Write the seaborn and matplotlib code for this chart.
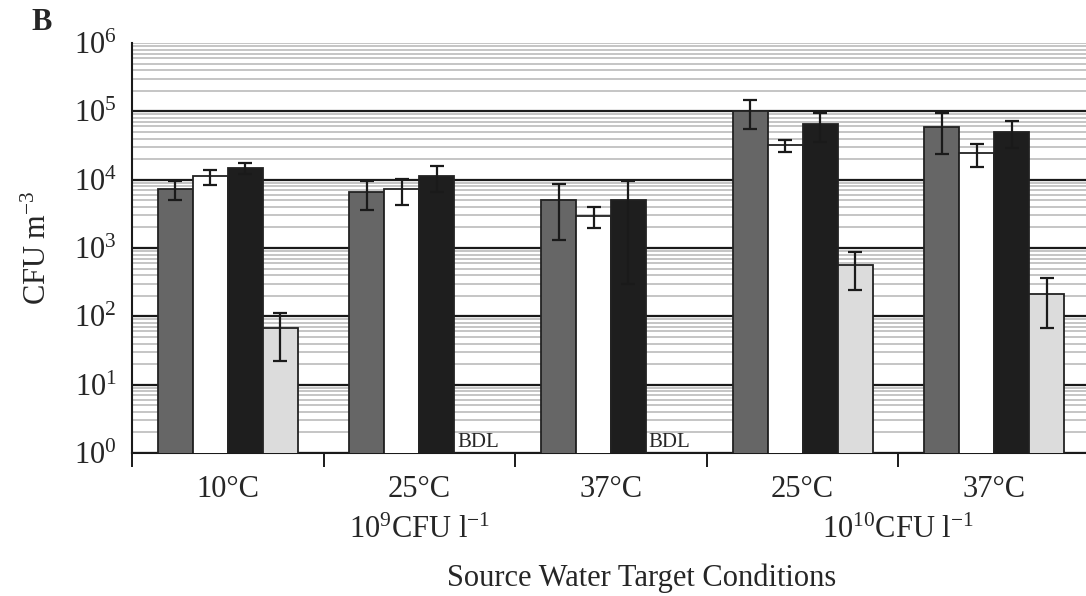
import numpy as np
import pandas as pd
import matplotlib
matplotlib.use("Agg")
import matplotlib.pyplot as plt
import seaborn as sns
from matplotlib.ticker import LogLocator, NullFormatter, FixedLocator

# ---------------- data ----------------
conditions = ["10C_1e9", "25C_1e9", "37C_1e9", "25C_1e10", "37C_1e10"]
tick_labels = ["10°C", "25°C", "37°C", "25°C", "37°C"]
series = ["Series A", "Series B", "Series C", "Series D"]

vals_a = [7300, 6600, 5000, 100000, 59000]
errs_a = [2200, 3000, 3700, 45000, 35000]
vals_b = [11200, 7300, 2950, 32000, 24500]
errs_b = [2800, 3000, 1000, 6500, 9000]
vals_c = [14800, 11200, 5000, 65000, 50000]
errs_c = [2500, 4500, 4700, 30000, 21000]
vals_d = [67, 0, 0, 560, 213]          # 0 = BDL (below detection limit)
errs_d = [45, 0, 0, 320, 145]

group_labels = [r"$10^{9}$CFU l$^{-1}$", r"$10^{10}$CFU l$^{-1}$"]
group_label_pos = [1.0, 3.5]

colors = ["#666666", "#ffffff", "#1e1e1e", "#dcdcdc"]

all_vals = [vals_a, vals_b, vals_c, vals_d]
all_errs = [errs_a, errs_b, errs_c, errs_d]

df = pd.DataFrame({
    "condition": np.repeat([conditions], 4, axis=0).ravel(),
    "series": np.repeat(series, len(conditions)),
    "value": np.concatenate(all_vals).astype(float),
})

# ---------------- style ----------------
sns.set_style("white")
plt.rcParams["font.family"] = ["Liberation Serif", "DejaVu Serif"]
plt.rcParams["mathtext.fontset"] = "custom"
plt.rcParams["mathtext.rm"] = "Liberation Serif"
plt.rcParams["mathtext.it"] = "Liberation Serif:italic"
plt.rcParams["mathtext.bf"] = "Liberation Serif:bold"
plt.rcParams["mathtext.default"] = "regular"

fig = plt.figure(figsize=(10.86, 5.96), dpi=100)
ax = fig.add_axes([132 / 1086, 1 - 453 / 596, (1090 - 132) / 1086, 410 / 596])

sns.barplot(data=df, x="condition", y="value", hue="series",
            order=conditions, hue_order=series, palette=colors,
            saturation=1, width=0.73, errorbar=None, legend=False,
            edgecolor="#222222", linewidth=1.3, ax=ax, zorder=3)

ax.set_yscale("log")
ax.set_ylim(1, 1e6)
ax.set_xlim(-0.5, 4.5)

# error bars + BDL labels
for cont, vals, errs in zip(ax.containers, all_vals, all_errs):
    for patch, v, e in zip(cont.patches, vals, errs):
        xc = patch.get_x() + patch.get_width() / 2
        if v > 0:
            ax.errorbar(xc, v, yerr=e, fmt="none", ecolor="#1a1a1a",
                        elinewidth=1.6, capsize=5, capthick=1.6, zorder=4)
        else:
            ax.annotate("BDL", xy=(patch.get_x(), 1), xytext=(2, 1),
                        textcoords="offset points", ha="left", va="bottom",
                        fontsize=15, zorder=5)

# grid
ax.set_axisbelow(True)
ax.yaxis.set_major_locator(FixedLocator([1, 10, 100, 1e3, 1e4, 1e5, 1e6]))
ax.yaxis.set_minor_locator(LogLocator(base=10, subs=np.arange(2, 10), numticks=20))
ax.yaxis.set_minor_formatter(NullFormatter())
ax.yaxis.grid(True, which="major", color="#1a1a1a", linewidth=1.6)
ax.yaxis.grid(True, which="minor", color="#c0c0c0", linewidth=1.3)
ax.xaxis.grid(False)
ticks = ax.yaxis.get_major_ticks()
ticks[-1].gridline.set_color("#c0c0c0")
ticks[-1].gridline.set_linewidth(1.3)

ax.tick_params(axis="y", which="major", direction="out", length=10, width=1.4,
               color="#1a1a1a", pad=1, labelsize=22)
ax.tick_params(axis="y", which="minor", length=0)

ax.set_xticks(range(len(conditions)))
ax.set_xticklabels(tick_labels)
ax.set_xticks(np.arange(-0.5, len(conditions), 1.0), minor=True)
ax.tick_params(axis="x", which="major", length=0, pad=16, labelsize=22)
ax.tick_params(axis="x", which="minor", direction="out", length=10, width=1.4,
               color="#1a1a1a", bottom=True)

for s in ["top", "right"]:
    ax.spines[s].set_visible(False)
for s in ["left", "bottom"]:
    ax.spines[s].set_color("#1a1a1a")
    ax.spines[s].set_linewidth(1.5)

ax.set_xlabel("")
ax.set_ylabel("")

for lbl, xp in zip(group_labels, group_label_pos):
    ax.text(xp, -0.19, lbl, transform=ax.get_xaxis_transform(),
            ha="center", va="center", fontsize=22)

fig.text(642 / 1086, 1 - 578 / 596, "Source Water Target Conditions",
         ha="center", va="center", fontsize=22)
fig.text(38 / 1086, 1 - 248 / 596, r"CFU m$^{-3}$", rotation=90,
         ha="center", va="center", fontsize=22)
fig.text(42 / 1086, 1 - 22 / 596, "B", ha="center", va="center",
         fontsize=22, fontweight="bold")

fig.savefig("out.png", dpi=100)
